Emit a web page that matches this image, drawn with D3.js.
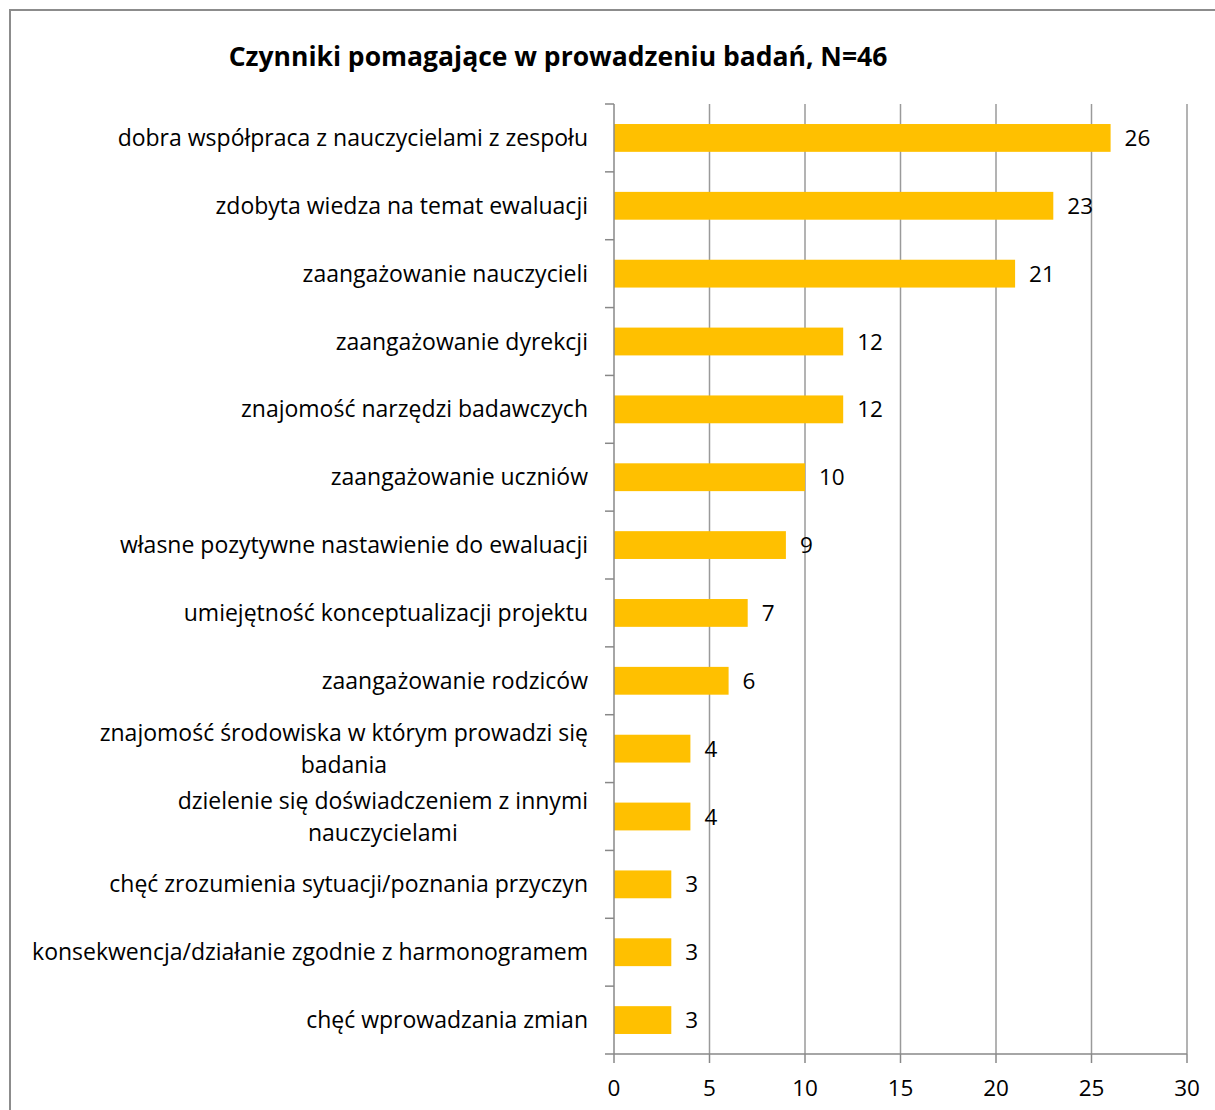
<!DOCTYPE html>
<html>
<head>
<meta charset="utf-8">
<script src="https://cdn.jsdelivr.net/npm/d3@7"></script>
<style>
  body { margin: 0; background: #fff; }
  svg { display: block; }
  text { font-family: "Open Sans", "Noto Sans", sans-serif; fill: #000; }
</style>
</head>
<body>
<div id="viz"></div>
<script>
// chart data
var categories = [
  ["dobra współpraca z nauczycielami z zespołu"],
  ["zdobyta wiedza na temat ewaluacji"],
  ["zaangażowanie nauczycieli"],
  ["zaangażowanie dyrekcji"],
  ["znajomość narzędzi badawczych"],
  ["zaangażowanie uczniów"],
  ["własne pozytywne nastawienie do ewaluacji"],
  ["umiejętność konceptualizacji projektu"],
  ["zaangażowanie rodziców"],
  ["znajomość środowiska w którym prowadzi się", "badania"],
  ["dzielenie się doświadczeniem z innymi", "nauczycielami"],
  ["chęć zrozumienia sytuacji/poznania przyczyn"],
  ["konsekwencja/działanie zgodnie z harmonogramem"],
  ["chęć wprowadzania zmian"]
];
var values = [26, 23, 21, 12, 12, 10, 9, 7, 6, 4, 4, 3, 3, 3];
var xTicks = [0, 5, 10, 15, 20, 25, 30];
var title = "Czynniki pomagające w prowadzeniu badań, N=46";

var W = 1215, H = 1110;
var plotL = 614, plotR = 1187, plotT = 104, plotB = 1054;

var svg = d3.select('#viz').append('svg').attr('width', W).attr('height', H);

// frame
svg.append('rect')
  .attr('x', 10).attr('y', 10)
  .attr('width', W + 20).attr('height', H + 20)
  .attr('fill', 'none').attr('stroke', '#8c8c8c').attr('stroke-width', 2);

svg.append('text')
  .attr('x', 558).attr('y', 66)
  .attr('text-anchor', 'middle')
  .style('font-size', '26.5px').style('font-weight', 'bold')
  .text(title);

var x = d3.scaleLinear().domain([0, 30]).range([plotL, plotR]);
var band = d3.scaleBand().domain(d3.range(categories.length)).range([plotT, plotB]);
var y = d3.scaleBand().domain(d3.range(categories.length)).range([plotT, plotB]).paddingInner(0.59).paddingOuter(0.295);

// gridlines
svg.append('g').selectAll('line').data(xTicks.slice(1)).enter().append('line')
  .attr('x1', function(d){ return x(d); }).attr('x2', function(d){ return x(d); })
  .attr('y1', plotT).attr('y2', plotB)
  .attr('stroke', '#9a9a9a').attr('stroke-width', 1.5);

// bars
svg.append('g').selectAll('rect').data(values).enter().append('rect')
  .attr('x', x(0))
  .attr('y', function(d, i){ return y(i); })
  .attr('width', function(d){ return x(d) - x(0); })
  .attr('height', y.bandwidth())
  .attr('fill', '#ffc000');

// value labels
svg.append('g').selectAll('text').data(values).enter().append('text')
  .attr('x', function(d){ return x(d) + 14; })
  .attr('y', function(d, i){ return band(i) + band.bandwidth() / 2 + 8; })
  .style('font-size', '22.5px')
  .text(function(d){ return d; });

// y axis
var yAxis = svg.append('g');
yAxis.append('line')
  .attr('x1', plotL).attr('x2', plotL).attr('y1', plotT).attr('y2', plotB)
  .attr('stroke', '#888').attr('stroke-width', 1.5);
yAxis.selectAll('line.tick').data(d3.range(categories.length + 1)).enter().append('line')
  .attr('class', 'tick')
  .attr('x1', plotL - 9).attr('x2', plotL)
  .attr('y1', function(i){ return plotT + i * band.step(); })
  .attr('y2', function(i){ return plotT + i * band.step(); })
  .attr('stroke', '#888').attr('stroke-width', 1.5);

// category labels, multi-line ones centred on their own block
var labelRight = 588;
categories.forEach(function(lines, i){
  var cy = band(i) + band.bandwidth() / 2;
  var g = svg.append('g');
  var t = g.selectAll('text').data(lines).enter().append('text')
    .attr('y', function(d, j){ return cy + 8 + (j - (lines.length - 1) / 2) * 32; })
    .style('font-size', '23px')
    .text(function(d){ return d; });
  var widths = [];
  t.each(function(){ widths.push(this.getComputedTextLength()); });
  var maxW = d3.max(widths);
  t.attr('x', labelRight - maxW / 2).attr('text-anchor', 'middle');
});

// x axis
var xAxis = svg.append('g');
xAxis.append('line')
  .attr('x1', plotL).attr('x2', plotR).attr('y1', plotB).attr('y2', plotB)
  .attr('stroke', '#888').attr('stroke-width', 1.5);
xAxis.selectAll('line.tick').data(xTicks).enter().append('line')
  .attr('x1', function(d){ return x(d); }).attr('x2', function(d){ return x(d); })
  .attr('y1', plotB).attr('y2', plotB + 9)
  .attr('stroke', '#888').attr('stroke-width', 1.5);
xAxis.selectAll('text').data(xTicks).enter().append('text')
  .attr('x', function(d){ return x(d); })
  .attr('y', plotB + 42)
  .attr('text-anchor', 'middle')
  .style('font-size', '22.5px')
  .text(function(d){ return d; });
</script>
</body>
</html>
